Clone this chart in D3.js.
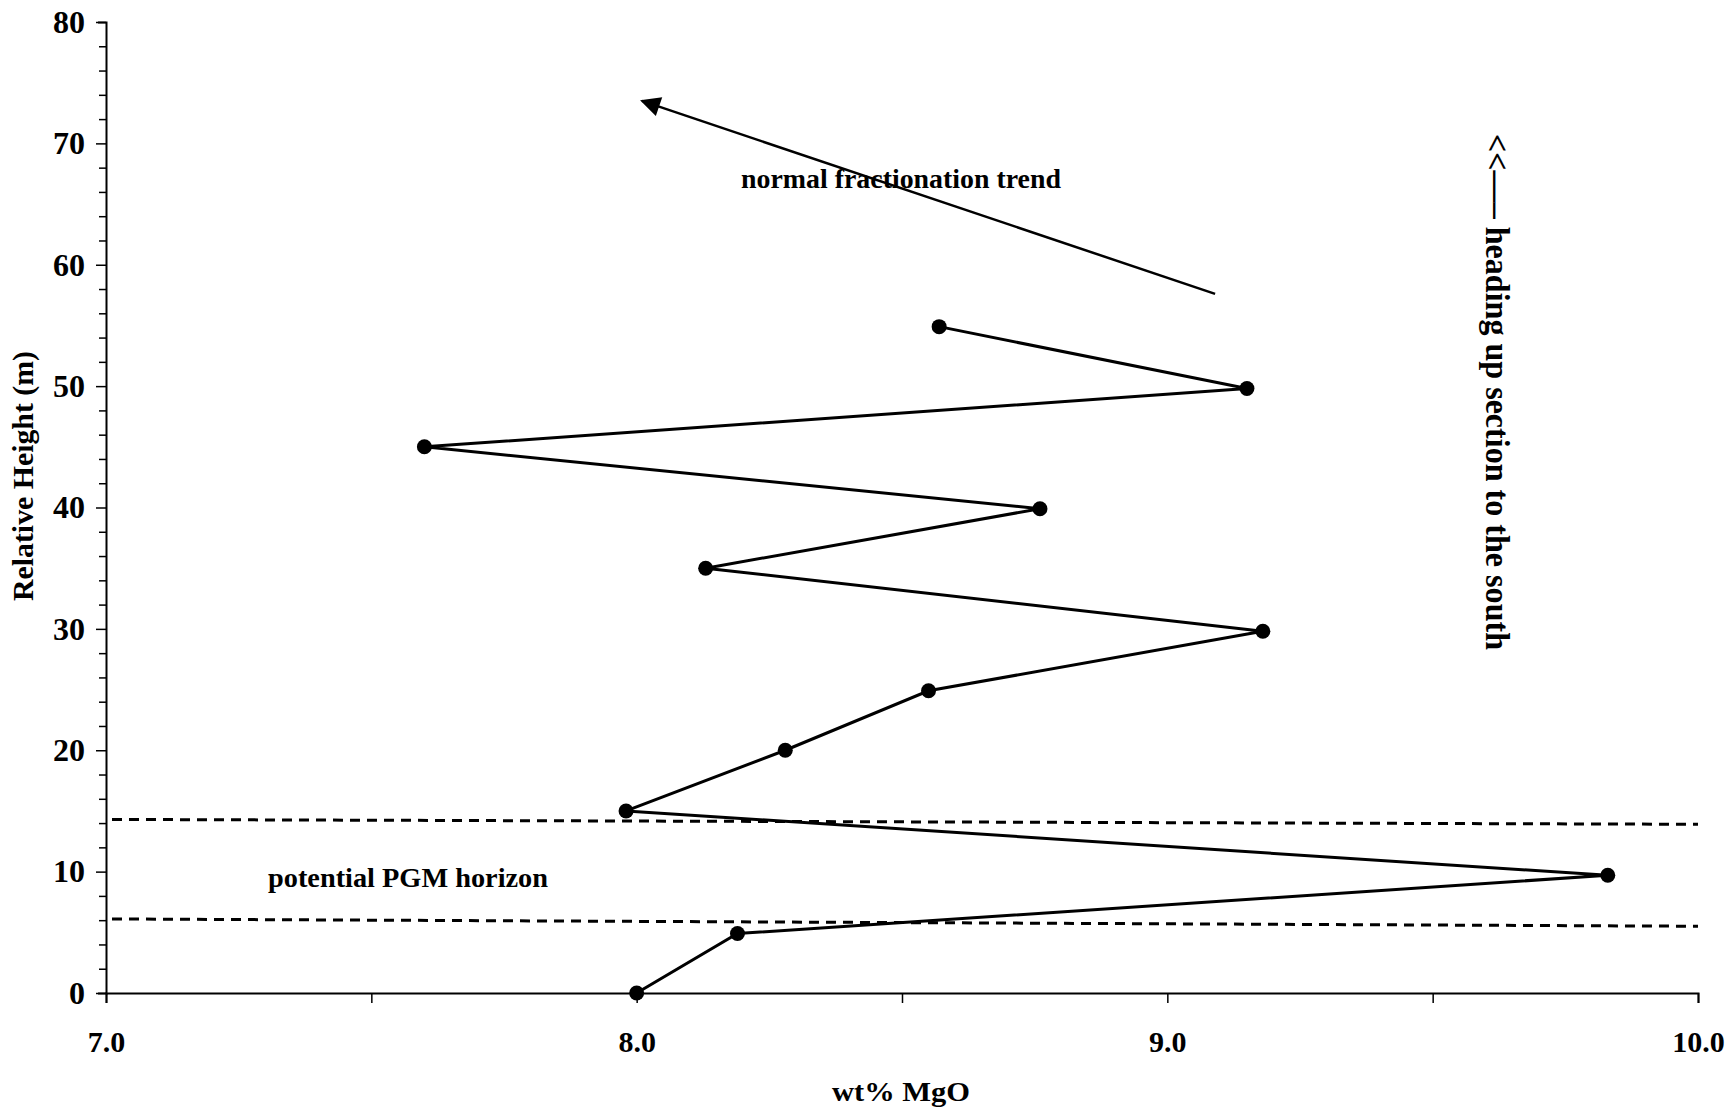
<!DOCTYPE html>
<html>
<head>
<meta charset="utf-8">
<script src="https://cdn.jsdelivr.net/npm/d3@7"></script>
<style>
  html, body { margin: 0; padding: 0; background: #fff; }
  svg { display: block; }
  text { font-family: "Liberation Serif", "Times New Roman", serif; font-weight: bold; fill: #000; }
</style>
</head>
<body>
<svg id="chart" width="1728" height="1109"></svg>
<script>
// ---- data ----
const mgo    = [8.00, 8.19, 9.83, 7.98, 8.28, 8.55, 9.18, 8.13, 8.76, 7.60, 9.15, 8.57];
const height = [0.0, 4.9, 9.7, 15.0, 20.0, 24.9, 29.8, 35.0, 39.9, 45.0, 49.8, 54.9];

const xTicks = [7.0, 7.5, 8.0, 8.5, 9.0, 9.5, 10.0];
const xTickLabels = ["7.0", "", "8.0", "", "9.0", "", "10.0"];
const yTicks = d3.range(0, 81, 2);
const yLabelTicks = [0, 10, 20, 30, 40, 50, 60, 70, 80];

// dashed horizon bounds (start/end in data units)
const horizonUpperX = [7.0, 10.0];
const horizonUpperY = [14.3, 13.9];
const horizonLowerX = [7.0, 10.0];
const horizonLowerY = [6.1, 5.5];

// trend arrow (tail -> head)
const trendX = [9.09, 8.01];
const trendY = [57.6, 73.5];

const xTitle = "wt% MgO";
const yTitle = "Relative Height (m)";
const trendLabel = "normal fractionation trend";
const horizonLabel = "potential PGM horizon";
const sideLabel = "<<\u2014\u2013 heading up section to the south";

// ---- layout ----
const svg = d3.select("#chart");
const x = d3.scaleLinear().domain([7, 10]).range([106, 1698]);
const y = d3.scaleLinear().domain([0, 80]).range([993, 22]);

// axes
const xAxis = d3.axisBottom(x).tickValues(xTicks).tickSize(10)
  .tickFormat((d, i) => xTickLabels[i]);
const gx = svg.append("g").attr("transform", `translate(0,${y(0)})`).call(xAxis);
gx.select(".domain").attr("stroke", "#000").attr("stroke-width", 2);
gx.selectAll(".tick line").attr("stroke", "#000").attr("stroke-width", 1.5);
gx.selectAll(".tick text").attr("y", 38).attr("dy", "0.71em")
  .style("font-size", "30px").style("font-family", "Liberation Serif").style("font-weight", "bold");

const yAxis = d3.axisLeft(y).tickValues(yTicks).tickSize(8)
  .tickFormat(d => yLabelTicks.includes(d) ? String(d) : "");
const gy = svg.append("g").attr("transform", `translate(${x(7)},0)`).call(yAxis);
gy.select(".domain").attr("stroke", "#000").attr("stroke-width", 2);
gy.selectAll(".tick line").attr("stroke", "#000").attr("stroke-width", 1.5)
  .attr("x2", d => yLabelTicks.includes(d) ? -10 : -7);
gy.selectAll(".tick text").attr("x", -21)
  .style("font-size", "32px").style("font-family", "Liberation Serif").style("font-weight", "bold");

// horizon dashed lines
[[horizonUpperX, horizonUpperY], [horizonLowerX, horizonLowerY]].forEach(([hx, hy]) => {
  svg.append("line")
    .attr("x1", x(hx[0]) + 6).attr("y1", y(hy[0]))
    .attr("x2", x(hx[1])).attr("y2", y(hy[1]))
    .attr("stroke", "#000").attr("stroke-width", 3)
    .attr("stroke-dasharray", "10,7");
});

// data line + markers
const pts = mgo.map((m, i) => ({ m, h: height[i] }));
svg.append("path").datum(pts)
  .attr("fill", "none").attr("stroke", "#000").attr("stroke-width", 3)
  .attr("stroke-linejoin", "miter")
  .attr("d", d3.line().x(d => x(d.m)).y(d => y(d.h)));
svg.selectAll("circle.pt").data(pts).join("circle")
  .attr("class", "pt").attr("cx", d => x(d.m)).attr("cy", d => y(d.h)).attr("r", 7.5)
  .attr("fill", "#000");

// trend arrow
svg.append("defs").append("marker")
  .attr("id", "ah").attr("viewBox", "0 0 10 10").attr("refX", 9).attr("refY", 5)
  .attr("markerUnits", "userSpaceOnUse").attr("markerWidth", 24).attr("markerHeight", 20)
  .attr("orient", "auto")
  .append("path").attr("d", "M0,0 L10,5 L0,10 Z").attr("fill", "#000");
svg.append("line")
  .attr("x1", x(trendX[0])).attr("y1", y(trendY[0]))
  .attr("x2", x(trendX[1])).attr("y2", y(trendY[1]))
  .attr("stroke", "#000").attr("stroke-width", 2.5)
  .attr("marker-end", "url(#ah)");

// annotations (widths matched to the reference via textLength)
svg.append("text").attr("x", 901).attr("y", 188).attr("text-anchor", "middle")
  .attr("textLength", 320).attr("lengthAdjust", "spacingAndGlyphs")
  .style("font-size", "27px").text(trendLabel);
svg.append("text").attr("x", 408).attr("y", 887).attr("text-anchor", "middle")
  .attr("textLength", 280).attr("lengthAdjust", "spacingAndGlyphs")
  .style("font-size", "27px").text(horizonLabel);
svg.append("text").attr("transform", "translate(1486,392) rotate(90)").attr("text-anchor", "middle")
  .attr("textLength", 516).attr("lengthAdjust", "spacingAndGlyphs")
  .style("font-size", "33px").text(sideLabel);

// axis titles
svg.append("text").attr("x", 901).attr("y", 1101).attr("text-anchor", "middle")
  .attr("textLength", 138).attr("lengthAdjust", "spacingAndGlyphs")
  .style("font-size", "27px").text(xTitle);
svg.append("text").attr("transform", "translate(33,476) rotate(-90)").attr("text-anchor", "middle")
  .attr("textLength", 250).attr("lengthAdjust", "spacingAndGlyphs")
  .style("font-size", "30px").text(yTitle);
</script>
</body>
</html>
